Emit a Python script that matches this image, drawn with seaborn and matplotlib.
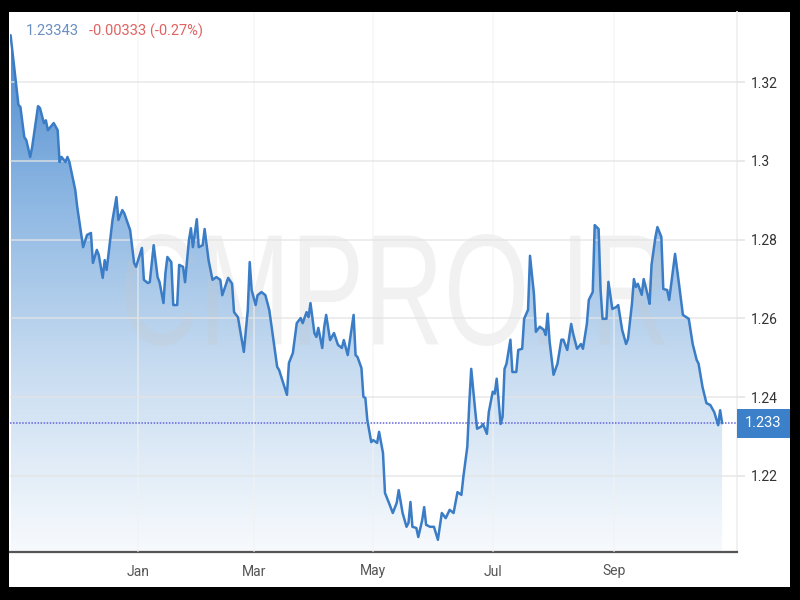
import numpy as np
import pandas as pd
import seaborn as sns
import matplotlib.pyplot as plt
import matplotlib.dates as mdates
from matplotlib.colors import LinearSegmentedColormap
from matplotlib.patches import Rectangle, PathPatch
from matplotlib.textpath import TextPath
from matplotlib.font_manager import FontProperties
from matplotlib.transforms import Affine2D
from matplotlib.ticker import FormatStrFormatter

# Days counted from 1 January
days = [-65, -61, -60, -58, -57, -55, -54, -51, -50, -48, -47, -46, -43, -41, -40,
        -39, -37, -36, -35, -32, -31, -28, -26, -24, -23, -21, -20, -18, -17, -16,
        -13, -11, -10, -8, -7, -4, -2, -1, 2, 3, 5, 6, 8, 10, 11, 13, 14, 15, 17,
        18, 20, 21, 23, 24, 26, 27, 28, 30, 31, 33, 34, 36, 38, 40, 42, 43, 46, 48,
        49, 51, 54, 56, 57, 58, 60, 61, 63, 65, 67, 71, 72, 76, 77, 79, 81, 83, 84,
        86, 87, 88, 90, 91, 92, 94, 95, 96, 98, 100, 102, 104, 105, 107, 110, 111,
        112, 114, 115, 116, 117, 119, 120, 122, 123, 125, 126, 128, 130, 132, 133,
        135, 137, 138, 139, 140, 142, 143, 145, 146, 147, 149, 151, 153, 155, 157,
        159, 161, 163, 165, 166, 168, 169, 170, 172, 173, 175, 176, 178, 179, 181,
        182, 183, 185, 186, 187, 188, 190, 191, 193, 194, 196, 197, 199, 200, 202,
        203, 205, 207, 208, 209, 210, 212, 214, 216, 217, 219, 221, 222, 224, 226,
        227, 229, 230, 232, 233, 235, 236, 237, 239, 240, 242, 244, 245, 247, 249,
        250, 252, 253, 254, 255, 257, 258, 260, 261, 262, 264, 265, 267, 268, 270,
        271, 274, 276, 278, 281, 283, 285, 286, 288, 290, 292, 294, 296, 297, 298]

rates = [1.3319, 1.3142, 1.3137, 1.3060, 1.3053, 1.3010, 1.3035, 1.3139, 1.3134,
         1.3096, 1.3103, 1.3078, 1.3096, 1.3078, 1.2997, 1.3010, 1.2997, 1.3010,
         1.2997, 1.2926, 1.2883, 1.2781, 1.2812, 1.2817, 1.2741, 1.2774, 1.2761,
         1.2703, 1.2748, 1.2723, 1.2850, 1.2908, 1.2850, 1.2875, 1.2867, 1.2824,
         1.2741, 1.2731, 1.2779, 1.2698, 1.2690, 1.2692, 1.2786, 1.2705, 1.2692,
         1.2639, 1.2715, 1.2756, 1.2743, 1.2634, 1.2634, 1.2736, 1.2731, 1.2692,
         1.2799, 1.2829, 1.2781, 1.2852, 1.2781, 1.2786, 1.2827, 1.2748, 1.2698,
         1.2705, 1.2698, 1.2659, 1.2703, 1.2688, 1.2616, 1.2603, 1.2515, 1.2621,
         1.2743, 1.2672, 1.2634, 1.2659, 1.2667, 1.2659, 1.2621, 1.2477, 1.2469,
         1.2406, 1.2487, 1.2512, 1.2588, 1.2601, 1.2588, 1.2616, 1.2603, 1.2639,
         1.2563, 1.2553, 1.2576, 1.2525, 1.2578, 1.2609, 1.2545, 1.2563, 1.2533,
         1.2525, 1.2545, 1.2507, 1.2609, 1.2507, 1.2502, 1.2474, 1.2401, 1.2398,
         1.2342, 1.2286, 1.2291, 1.2284, 1.2312, 1.2258, 1.2157, 1.2132, 1.2106,
         1.2132, 1.2164, 1.2106, 1.2071, 1.2081, 1.2134, 1.2071, 1.2068, 1.2045,
         1.2088, 1.2121, 1.2076, 1.2071, 1.2071, 1.2038, 1.2106, 1.2093, 1.2114,
         1.2106, 1.2159, 1.2152, 1.2198, 1.2274, 1.2383, 1.2472, 1.2368, 1.2320,
         1.2325, 1.2332, 1.2307, 1.2363, 1.2414, 1.2409, 1.2447, 1.2332, 1.2350,
         1.2472, 1.2485, 1.2546, 1.2464, 1.2464, 1.2520, 1.2523, 1.2599, 1.2622,
         1.2759, 1.2662, 1.2566, 1.2579, 1.2571, 1.2558, 1.2612, 1.2541, 1.2457,
         1.2485, 1.2546, 1.2546, 1.2520, 1.2586, 1.2561, 1.2523, 1.2535, 1.2523,
         1.2586, 1.2647, 1.2667, 1.2837, 1.2827, 1.2672, 1.2599, 1.2599, 1.2693,
         1.2624, 1.2629, 1.2634, 1.2571, 1.2535, 1.2548, 1.2637, 1.2700, 1.2680,
         1.2688, 1.2660, 1.2700, 1.2660, 1.2637, 1.2736, 1.2807, 1.2832, 1.2807,
         1.2675, 1.2672, 1.2647, 1.2764, 1.2688, 1.2609, 1.2599, 1.2535, 1.2495,
         1.2485, 1.2426, 1.2385, 1.2380, 1.2362, 1.2329, 1.2367, 1.2334]

y_ticks = [1.22, 1.24, 1.26, 1.28, 1.30, 1.32]
last_price = "1.23343"
change_txt = "-0.00333 (-0.27%)"
box_txt = "1.233"
watermark = "CMPRO.IR"

assert len(days) == len(rates)

base = pd.Timestamp("2018-01-01")
df = pd.DataFrame({"date": base + pd.to_timedelta(days, unit="D"), "rate": rates})

ymin, ymax = 1.2007, 1.3378
xmin = base + pd.Timedelta(days=-65.3)
xmax = base + pd.Timedelta(days=305.6)

# Style
sns.set_theme(style="white")
plt.rcParams["font.family"] = ["Roboto", "DejaVu Sans"]

fig = plt.figure(figsize=(8, 6), dpi=100, facecolor="black")
bg = Rectangle((9 / 800, 13 / 600), 781 / 800, 575 / 600,
               transform=fig.transFigure, facecolor="white",
               edgecolor="none", zorder=-10)
fig.patches.append(bg)
ax = fig.add_axes([10 / 800, 48 / 600, 727 / 800, 540 / 600])
ax.set_facecolor("white")

# Line
sns.lineplot(data=df, x="date", y="rate", color="#3a7cc5", linewidth=1.8,
             ax=ax, zorder=3)

# Gradient fill below the line
poly = ax.fill_between(df["date"], df["rate"], ymin, color="none", lw=0)
cmap = LinearSegmentedColormap.from_list(
    "fill", ["#f7fafd", "#c9ddf1", "#8ab5e2", "#4483ca"])
xs = mdates.date2num(df["date"])
grad = np.linspace(1, 0, 256).reshape(-1, 1)
im = ax.imshow(grad, aspect="auto", cmap=cmap, origin="upper",
               extent=[xs[0], xs[-1], ymin, ymax], zorder=1)
im.set_clip_path(poly.get_paths()[0], transform=ax.transData)

# Watermark, squeezed to a condensed shape (pixel box of the original)
tp = TextPath((0, 0), watermark, size=1,
              prop=FontProperties(family="Liberation Sans"))
ext = tp.get_extents()
wm_tr = (Affine2D().translate(-ext.x0, -ext.y0)
         .scale(540 / ext.width, 112 / ext.height)
         .translate(125, 600 - 346))
ax.add_artist(PathPatch(tp, transform=wm_tr, facecolor="#c8c8c8",
                        edgecolor="none", alpha=0.24, zorder=2))

# Last price marker
last = rates[-1]
ax.axhline(last, color="#6464dc", lw=1.1, ls=(0, (1, 1)), zorder=2.6)
ytr = ax.get_yaxis_transform()
ax.add_patch(Rectangle((1.0, last - 0.0037), 53 / 727, 0.0074, transform=ytr,
                       facecolor="#3b80c8", edgecolor="none", clip_on=False,
                       zorder=4))
ax.text(1.0 + 26.5 / 727, last, box_txt, transform=ytr, ha="center",
        va="center", color="white", fontsize=10.5, zorder=5)

# Axes
ax.set_xlim(xmin, xmax)
ax.set_ylim(ymin, ymax)
ax.set_xlabel("")
ax.set_ylabel("")
ax.xaxis.set_major_locator(mdates.MonthLocator(bymonth=[1, 3, 5, 7, 9]))
ax.xaxis.set_major_formatter(mdates.DateFormatter("%b"))
ax.set_yticks(y_ticks)
ax.yaxis.set_major_formatter(FormatStrFormatter("%g"))
ax.yaxis.tick_right()
ax.tick_params(axis="y", length=6, color="#e6e6e6", pad=4, labelsize=10,
               labelcolor="#333333")
ax.tick_params(axis="x", length=0, pad=9, labelsize=10, labelcolor="#555555")

ax.set_axisbelow(False)
ax.grid(axis="y", color="#e4e4e4", lw=1.2, alpha=0.8)
ax.grid(axis="x", color="#f2f2f2", lw=1.2, alpha=0.6)

for s in ["top", "left"]:
    ax.spines[s].set_visible(False)
ax.spines["right"].set_color("#f0f0f0")
ax.spines["bottom"].set_color("#555555")
ax.spines["bottom"].set_linewidth(1.6)

# Header
fig.text(26 / 800, 1 - 31 / 600, last_price, color="#6a8fc2", fontsize=10.5,
         va="center")
fig.text(89 / 800, 1 - 31 / 600, change_txt, color="#e06262", fontsize=10.5,
         va="center")

fig.savefig("out.png", dpi=100, facecolor=fig.get_facecolor())
